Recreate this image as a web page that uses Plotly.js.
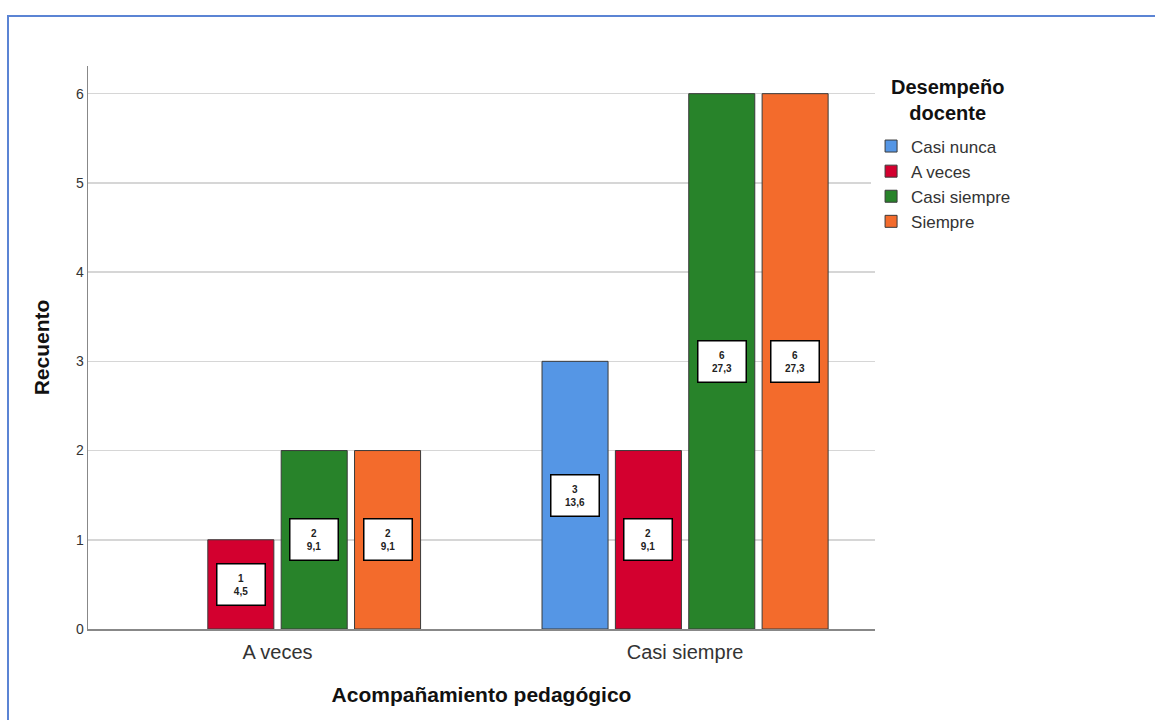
<!DOCTYPE html>
<html>
<head>
<meta charset="utf-8">
<script src="https://cdn.plot.ly/plotly-3.0.1.min.js"></script>
<style>
  html, body { margin: 0; padding: 0; background: #fff; overflow: hidden; }
  #chart { position: absolute; left: 0; top: 0; width: 1155px; height: 720px; }
  #frame { position: absolute; left: 7px; top: 15px; width: 1200px; height: 800px;
           border-left: 2px solid #5b84d4; border-top: 2px solid #5b84d4; pointer-events: none; }
</style>
</head>
<body>
<div id="chart"></div>
<div id="frame"></div>
<script>
// ---- data ----
const categories = ["A veces", "Casi siempre"];
const seriesNames = ["Casi nunca", "A veces", "Casi siempre", "Siempre"];
const seriesColors = ["#5596e5", "#d3002f", "#28832a", "#f36b2c"];
const counts = [
  [null, 3],   // Casi nunca
  [1, 2],      // A veces
  [2, 6],      // Casi siempre
  [2, 6]       // Siempre
];
const percents = [
  [null, "13,6"],
  ["4,5", "9,1"],
  ["9,1", "27,3"],
  ["9,1", "27,3"]
];
const yTicks = [0, 1, 2, 3, 4, 5, 6];
const legendTitle = "Desempeño<br>docente";
const xTitle = "Acompañamiento pedagógico";
const yTitle = "Recuento";

// ---- chart ----
const bargap = 0.28;
const bargroupgap = 0.1;
const font = "Liberation Sans, Arial, sans-serif";

const traces = seriesNames.map((name, si) => ({
  type: "bar",
  name: name,
  x: categories,
  y: counts[si],
  legendgroup: "g" + si,
  marker: { color: seriesColors[si], line: { color: "#3a3a3a", width: 1 } },
  hoverinfo: "x+y+name"
}));

const slot = (1 - bargap) / seriesNames.length;
const annotations = [];
seriesNames.forEach((name, si) => {
  categories.forEach((cat, ci) => {
    const v = counts[si][ci];
    if (v == null) return;
    annotations.push({
      xref: "x", yref: "y",
      x: ci + (si - (seriesNames.length - 1) / 2) * slot,
      y: v / 2,
      text: "<b>" + v + "</b><br><b>" + percents[si][ci] + "</b>",
      showarrow: false,
      font: { family: font, size: 10, color: "#222" },
      bgcolor: "#ffffff",
      bordercolor: "#000000",
      borderwidth: 1.5,
      borderpad: 1,
      width: 45,
      height: 38,
      align: "center",
      valign: "middle"
    });
  });
});

// legend title as centered text
annotations.push({
  xref: "paper", yref: "paper",
  x: 1.0915, y: 0.9396, xanchor: "center", yanchor: "middle",
  text: "<b>" + legendTitle + "</b>",
  showarrow: false, align: "center",
  font: { family: font, size: 20, color: "#111" }
});

const layout = {
  width: 1155, height: 720,
  paper_bgcolor: "#ffffff", plot_bgcolor: "#ffffff",
  margin: { l: 88, r: 280, t: 66, b: 91 },
  barmode: "group",
  bargap: bargap,
  bargroupgap: bargroupgap,
  font: { family: font, color: "#333" },
  xaxis: {
    type: "category",
    range: [-0.465, 1.466],
    showline: true, linecolor: "#888", linewidth: 1.5,
    showgrid: false, ticks: "",
    ticklabelstandoff: 4,
    tickfont: { size: 20, color: "#333" },
    title: { text: "<b>" + xTitle + "</b>", font: { size: 21, color: "#111" }, standoff: 26 }
  },
  yaxis: {
    range: [0, 6.31],
    tickvals: yTicks,
    showline: true, linecolor: "#888", linewidth: 1.5,
    showgrid: true, gridcolor: "#d6d6d6", gridwidth: 1.5,
    zeroline: false, ticks: "",
    tickfont: { size: 14, color: "#333" },
    title: { text: "<b>" + yTitle + "</b>", font: { size: 21, color: "#111" }, standoff: 20 }
  },
  legend: {
    x: 0.995, xanchor: "left", y: 0.889, yanchor: "top",
    traceorder: "grouped",
    tracegroupgap: 0,
    font: { size: 17, color: "#333" },
    itemwidth: 30
  },
  annotations: annotations,
  showlegend: true
};

Plotly.newPlot("chart", traces, layout, { displayModeBar: false, staticPlot: true });
</script>
</body>
</html>
